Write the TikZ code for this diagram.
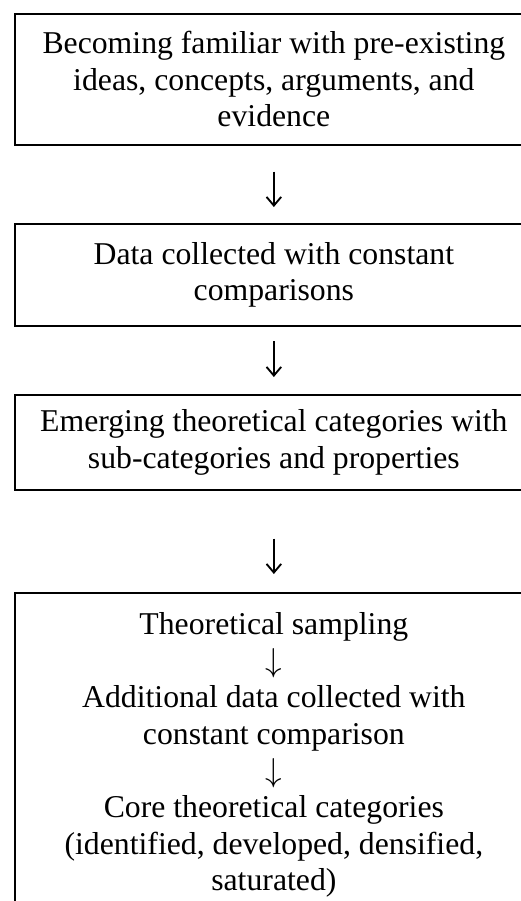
\documentclass[tikz,border=0pt]{standalone}
\usepackage{fontspec}
\setmainfont{Liberation Serif}
\usetikzlibrary{arrows.meta}

\begin{document}
\begin{tikzpicture}[x=0.75pt,y=0.75pt,yscale=-1,xscale=1,
  stagebox/.style={draw, line width=1.3pt, anchor=north west, inner xsep=5pt, inner ysep=6pt,
    text width=378.5pt, align=flush center, font=\fontsize{23.8}{27.4}\selectfont},
  flowarrow/.style={line width=1.4pt, -{Straight Barb[length=6.5pt,width=11pt]}}]
 %set diagram frame, boxes run past the right and bottom edge
 \useasboundingbox (0,0) rectangle (521,901);

 % Stage: literature
 \node [stagebox, minimum height=98.25pt] (familiar) at (14,13) {Becoming familiar with pre-existing\\ideas, concepts, arguments, and\\evidence};
 % Stage: data
 \node [stagebox, minimum height=76.5pt] (collected) at (14,223) {Data collected with constant\\comparisons};
 % Stage: categories
 \node [stagebox, minimum height=71.25pt] (emerging) at (14,394) {Emerging theoretical categories with\\sub-categories and properties};
 % Stage: sampling loop
 \node [stagebox, inner ysep=15pt] (sampling) at (14,592) {Theoretical sampling\\$\downarrow$\\Additional data collected with\\constant comparison\\$\downarrow$\\Core theoretical categories\\(identified, developed, densified,\\saturated)};

 % Arrows
 \draw [flowarrow, shorten <=19.5pt, shorten >=12pt] (familiar) -- (collected);
 \draw [flowarrow, shorten <=11pt, shorten >=12.75pt] (collected) -- (emerging);
 \draw [flowarrow, shorten <=36pt, shorten >=13.5pt] (emerging) -- (sampling);

\end{tikzpicture}
\end{document}
